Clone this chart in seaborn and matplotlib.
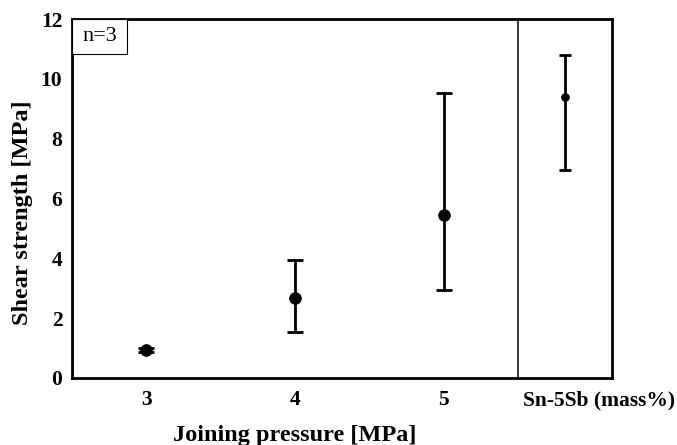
import matplotlib
matplotlib.use("Agg")
import matplotlib.pyplot as plt
import matplotlib.transforms as mtrans
from matplotlib.patches import Rectangle
import seaborn as sns
import pandas as pd
import numpy as np

# Data
pressures = [3, 4, 5]
mean_strength = [0.94, 2.68, 5.45]
upper_strength = [1.00, 3.95, 9.53]
lower_strength = [0.88, 1.54, 2.94]
ref_label = "Sn-5Sb (mass%)"
ref_mean = 9.40
ref_upper = 10.80
ref_lower = 6.96
y_ticks = [0, 2, 4, 6, 8, 10, 12]

sns.set_theme(style="white")
plt.rcParams['font.family'] = ['Liberation Serif', 'DejaVu Serif']
plt.rcParams['font.weight'] = 'bold'
plt.rcParams['text.color'] = 'black'
plt.rcParams['axes.labelcolor'] = 'black'
plt.rcParams['xtick.color'] = 'black'
plt.rcParams['ytick.color'] = 'black'

fig = plt.figure(figsize=(6.77, 4.45), dpi=100)
ax = fig.add_axes([0.1064, 0.1506, 0.7976, 0.8064])

xmin, xdiv, xmax = 2.5, 5.5, 6.13
ref_x = (xdiv + xmax) / 2

df = pd.DataFrame({"x": pressures, "y": mean_strength})
ax.errorbar(pressures, mean_strength,
            yerr=[np.array(mean_strength) - np.array(lower_strength),
                  np.array(upper_strength) - np.array(mean_strength)],
            fmt='none', ecolor='black', elinewidth=2, capsize=6, capthick=2, zorder=2)
sns.scatterplot(data=df, x="x", y="y", ax=ax, color='black', s=70,
                edgecolor='black', zorder=3, legend=False)

ax.errorbar([ref_x], [ref_mean],
            yerr=[[ref_mean - ref_lower], [ref_upper - ref_mean]],
            fmt='none', ecolor='black', elinewidth=2, capsize=4.3, capthick=2, zorder=2)
sns.scatterplot(x=[ref_x], y=[ref_mean], ax=ax, color='black', s=33,
                edgecolor='black', zorder=3, legend=False)

ax.axvline(xdiv, color='black', linewidth=1.1)

ax.set_xlim(xmin, xmax)
ax.set_ylim(0, 12)
ax.set_yticks(y_ticks)
ax.set_yticklabels([str(t) for t in y_ticks])
ax.set_xticks(pressures + [ref_x])
ax.set_xticklabels([str(p) for p in pressures] + [ref_label])

for s in ax.spines.values():
    s.set_linewidth(2)
    s.set_color('black')

ax.tick_params(axis='both', direction='in', length=4.5, width=1.5, colors='black',
               labelsize=15.5)
ax.tick_params(axis='x', pad=9)
ax.tick_params(axis='y', pad=7)
for lab in ax.get_xticklabels() + ax.get_yticklabels():
    lab.set_fontweight('bold')

# shift the reference-alloy label to the right as in the original
lab = ax.get_xticklabels()[-1]
lab.set_transform(lab.get_transform() +
                  mtrans.ScaledTranslation(0.34, 0, fig.dpi_scale_trans))

ax.set_xlabel("Joining pressure [MPa]", fontsize=17.5, fontweight='bold')
ax.set_ylabel("Shear strength [MPa]", fontsize=17.5, fontweight='bold')
ax.xaxis.set_label_coords((4.0 - xmin) / (xmax - xmin), -0.13)
ax.yaxis.set_label_coords(-0.072, 0.46)

# n=3 box
bw, bh = 55 / 540, 35 / 359
ax.add_patch(Rectangle((0, 1 - bh), bw, bh, transform=ax.transAxes,
                       facecolor='white', edgecolor='black', linewidth=0.8, zorder=4))
ax.text(bw / 2, 1 - bh / 2, "n=3", transform=ax.transAxes, fontsize=16,
        fontweight='normal', va='center', ha='center', zorder=5)

fig.savefig("out.png", dpi=100)
